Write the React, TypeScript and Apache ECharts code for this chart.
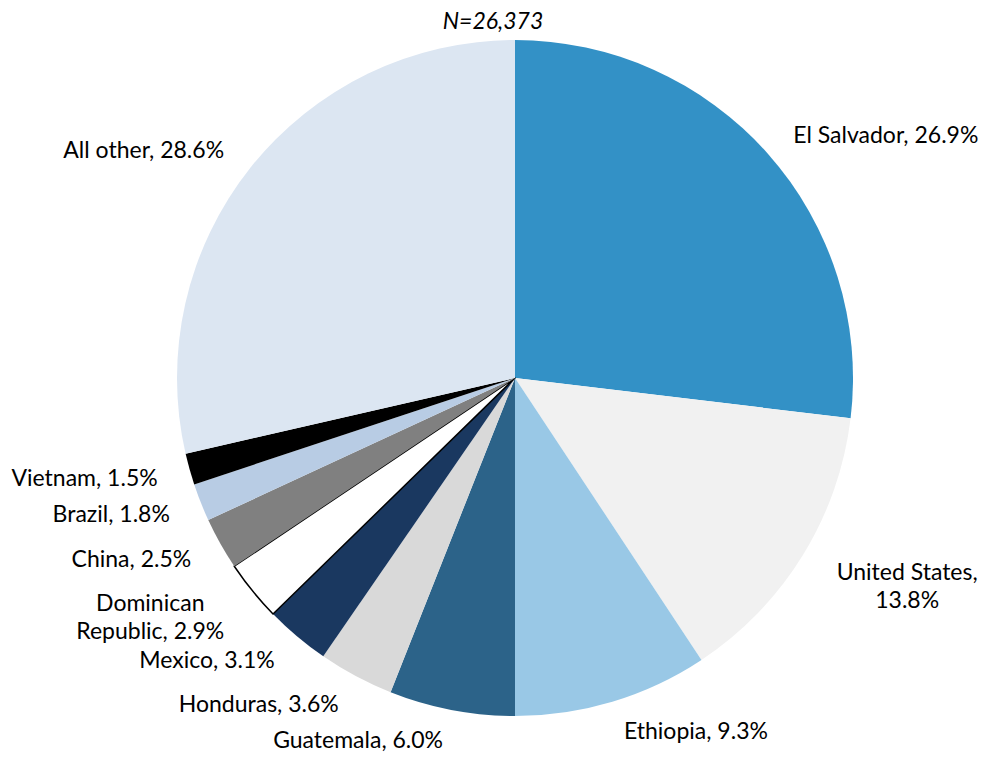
import React, { useEffect, useRef } from "react";
import * as echarts from "echarts";

const countries = [
  "El Salvador",
  "United States",
  "Ethiopia",
  "Guatemala",
  "Honduras",
  "Mexico",
  "Dominican Republic",
  "China",
  "Brazil",
  "Vietnam",
  "All other",
];
const shares = [26.9, 13.8, 9.3, 6.0, 3.6, 3.1, 2.9, 2.5, 1.8, 1.5, 28.6];
const colors = [
  "#3391C6",
  "#F1F1F1",
  "#99C8E6",
  "#2C6389",
  "#D9D9D9",
  "#1A3860",
  "#FFFFFF",
  "#808080",
  "#B8CCE4",
  "#000000",
  "#DCE6F2",
];
const title = "N=26,373";
// labels set on two centred lines
const twoLine: Record<string, (v: string) => [string, string]> = {
  "United States": (v) => ["United States,", v],
  "Dominican Republic": (v) => ["Dominican", "Republic, " + v],
};

export default function App() {
  const ref = useRef<HTMLDivElement>(null);
  useEffect(() => {
    document.body.style.margin = "0";
    const chart = echarts.init(ref.current!, null, { renderer: "svg" });
    const font = "Lato, 'Open Sans', sans-serif";
    chart.setOption({
      animation: false,
      backgroundColor: "#ffffff",
      title: {
        text: title,
        left: "center",
        top: 3,
        textStyle: {
          fontFamily: font,
          fontSize: 23,
          fontStyle: "italic",
          fontWeight: "normal",
          color: "#000",
        },
      },
      series: [
        {
          type: "pie",
          center: [515, 378],
          radius: 338,
          startAngle: 90,
          clockwise: true,
          avoidLabelOverlap: false,
          label: {
            show: true,
            position: "outside",
            fontFamily: font,
            fontSize: 23,
            color: "#000",
            distanceToLabelLine: 3,
            formatter: (p: any) => {
              const v = Number(p.value).toFixed(1) + "%";
              const f = twoLine[p.name];
              if (f) {
                const [a, b] = f(v);
                return "{c|" + a + "}\n{c|" + b + "}";
              }
              return p.name + ", " + v;
            },
            rich: {
              c: {
                fontFamily: font,
                fontSize: 23,
                color: "#000",
                width: 152,
                align: "center",
                lineHeight: 28,
              },
            },
          },
          labelLayout: (params: any) => {
            const n = countries[params.dataIndex];
            if (n === "United States") return { dy: 14 };
            if (n === "Dominican Republic") return { dy: 6 };
            return {};
          },
          labelLine: { show: false, length: 30, length2: 0 },
          emphasis: { disabled: true },
          data: countries.map((name, i) => ({
            name,
            value: shares[i],
            itemStyle:
              name === "Dominican Republic"
                ? { color: colors[i], borderColor: "#000", borderWidth: 1.5 }
                : { color: colors[i], borderWidth: 0 },
          })),
        },
      ],
    });
    return () => chart.dispose();
  }, []);
  return <div ref={ref} style={{ width: 986, height: 757 }} />;
}
